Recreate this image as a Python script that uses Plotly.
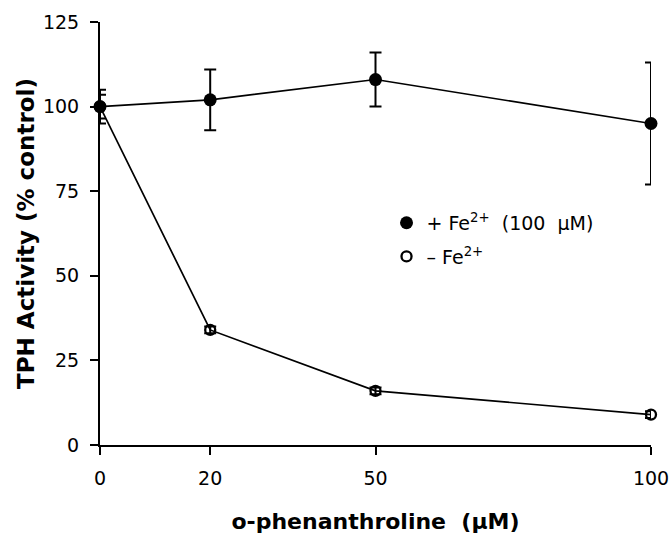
import plotly.graph_objects as go

conc = [0, 20, 50, 100]
with_fe = [100, 102, 108, 95]
with_fe_err = [5, 9, 8, 18]
without_fe = [100, 34, 16, 9]
without_fe_err = [3.5, 1, 1, 1]

x_ticks = [0, 20, 50, 100]
y_ticks = [0, 25, 50, 75, 100, 125]

label_with = "+ Fe<sup>2+</sup>  (100  µM)"
label_without = "– Fe<sup>2+</sup>"

fig = go.Figure()

fig.add_trace(go.Scatter(
    x=conc, y=without_fe, mode="lines+markers",
    line=dict(color="black", width=1.7),
    marker=dict(symbol="circle-open", size=10, color="black", line=dict(width=2.3)),
    error_y=dict(type="data", array=without_fe_err, color="black", thickness=2, width=6),
    showlegend=False, cliponaxis=False,
))
fig.add_trace(go.Scatter(
    x=conc, y=with_fe, mode="lines+markers",
    line=dict(color="black", width=1.7),
    marker=dict(symbol="circle", size=13, color="black"),
    error_y=dict(type="data", array=with_fe_err, color="black", thickness=2, width=6),
    showlegend=False, cliponaxis=False,
))

# legend-only entries
fig.add_trace(go.Scatter(
    x=[None], y=[None], mode="markers", name=label_with, legendgroup="a",
    marker=dict(symbol="circle", size=13, color="black"),
))
fig.add_trace(go.Scatter(
    x=[None], y=[None], mode="markers", name=label_without, legendgroup="b",
    marker=dict(symbol="circle-open", size=10, color="black", line=dict(width=2.3)),
))

axis_font = dict(family="DejaVu Sans", size=19, color="black")

fig.update_layout(
    width=671, height=534,
    margin=dict(l=100, r=20, t=22, b=89),
    paper_bgcolor="white", plot_bgcolor="white",
    showlegend=True,
    legend=dict(
        x=0.52, y=0.57, xanchor="left", yanchor="top",
        font=dict(family="DejaVu Sans", size=19, color="black"),
        traceorder="grouped", tracegroupgap=6,
        bgcolor="rgba(0,0,0,0)",
    ),
    xaxis=dict(
        range=[0, 100], tickvals=x_ticks, ticktext=[str(v) for v in x_ticks],
        showgrid=False, zeroline=False, showline=True, linecolor="black", linewidth=2,
        ticks="outside", ticklen=8, tickwidth=2, tickcolor="black",
        tickfont=axis_font, ticklabelstandoff=7, automargin=False,
        title=dict(text="<b>o-phenanthroline  (µM)</b>",
                   font=dict(family="DejaVu Sans", size=22, color="black"), standoff=30),
    ),
    yaxis=dict(
        range=[0, 125], tickvals=y_ticks,
        showgrid=False, zeroline=False, showline=True, linecolor="black", linewidth=2,
        ticks="outside", ticklen=8, tickwidth=2, tickcolor="black",
        tickfont=axis_font, ticklabelstandoff=7, automargin=False,
        title=dict(text="<b>TPH Activity (% control)</b>",
                   font=dict(family="DejaVu Sans", size=23, color="black"), standoff=2),
    ),
)

fig.write_html("out.html")
